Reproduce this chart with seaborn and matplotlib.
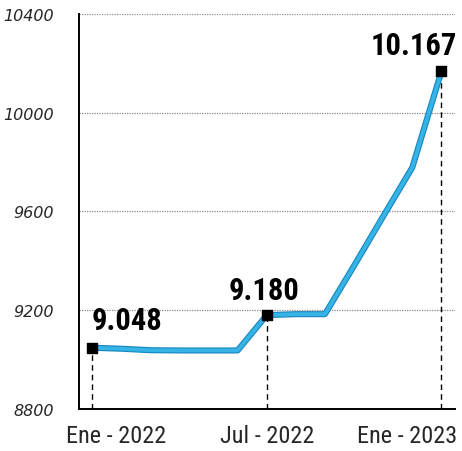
import matplotlib
matplotlib.use('Agg')
import matplotlib.pyplot as plt
import matplotlib.patheffects as pe
import matplotlib.transforms as mtrans
import seaborn as sns
import pandas as pd

# --- dados ---
meses = ['Ene 2022', 'Feb 2022', 'Mar 2022', 'Abr 2022', 'May 2022', 'Jun 2022',
         'Jul 2022', 'Ago 2022', 'Sep 2022', 'Oct 2022', 'Nov 2022', 'Dic 2022', 'Ene 2023']
valores = [9048, 9044, 9038, 9037, 9037, 9037, 9180, 9184, 9184, 9380, 9580, 9778, 10167]
destacados = [0, 6, 12]
etiquetas_x = ['Ene - 2022', 'Jul - 2022', 'Ene - 2023']
etiquetas_valor = ['9.048', '9.180', '10.167']
ticks_y = [8800, 9200, 9600, 10000, 10400]

df = pd.DataFrame({'mes': range(len(meses)), 'valor': valores})

# fontes estreitas (a primeira instalada é usada)
estreita = ['Roboto Condensed', 'Liberation Sans Narrow', 'Roboto', 'DejaVu Sans']

sns.set_style('white')
plt.rcParams['font.family'] = ['DejaVu Sans']

fig = plt.figure(figsize=(4.62, 4.52), dpi=100)
ax = fig.add_axes([0.171, 0.093, 0.814, 0.874])

# grade pontilhada
for v in ticks_y[1:]:
    ax.axhline(v, color='#8a8a8a', linestyle=(0, (1, 1)), linewidth=0.9, zorder=1)

# linhas tracejadas verticais
for i in destacados:
    ax.plot([i, i], [8800, valores[i]], color='black', linestyle=(0, (4, 3)),
            linewidth=1.0, zorder=2)

sns.lineplot(data=df, x='mes', y='valor', ax=ax, color='#36b4e6', linewidth=2.8,
             zorder=3,
             path_effects=[pe.Stroke(linewidth=4.4, foreground='#1786bf'), pe.Normal()])

ax.scatter(destacados, [valores[i] for i in destacados], marker='s', s=55,
           color='black', zorder=4)

offsets = [(0, 9), (-2, 7), (-20, 8)]
has = ['left', 'center', 'center']
for k, i in enumerate(destacados):
    ax.annotate(etiquetas_valor[k], (i, valores[i]), xytext=offsets[k],
                textcoords='offset points', ha=has[k], va='bottom',
                fontsize=22, fontweight='bold', family=estreita, color='black')

ax.set_xlim(-0.45, 12.47)
ax.set_ylim(8800, 10400)
ax.set_yticks(ticks_y)
ax.set_yticklabels([str(v) for v in ticks_y], fontsize=11.5, style='italic')
ax.set_xticks(destacados)
ax.set_xticklabels(etiquetas_x, fontsize=17.5, family=estreita)
ax.tick_params(axis='both', length=0)
ax.tick_params(axis='x', pad=11)
ax.tick_params(axis='y', pad=18)
ax.set_xlabel('')
ax.set_ylabel('')

# deslocar a primeira e a última etiqueta do eixo x para dentro
desloc = [24, 0, -34]
for lab, dx in zip(ax.get_xticklabels(), desloc):
    lab.set_transform(lab.get_transform() +
                      mtrans.ScaledTranslation(dx / 100, 0, fig.dpi_scale_trans))

for s in ['top', 'right']:
    ax.spines[s].set_visible(False)
ax.spines['left'].set_color('black')
ax.spines['left'].set_linewidth(1.4)
ax.spines['bottom'].set_color('black')
ax.spines['bottom'].set_linewidth(1.4)

fig.savefig('out.png', dpi=100)
